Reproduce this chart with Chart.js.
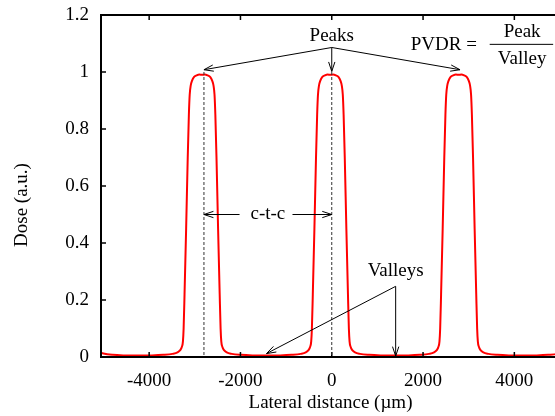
<!DOCTYPE html>
<html>
<head>
<meta charset="utf-8">
<title>Dose profile</title>
<script src="https://cdn.jsdelivr.net/npm/chart.js@4.4.1/dist/chart.umd.min.js"></script>
<style>
  html, body { margin: 0; padding: 0; background: #fff; overflow: hidden; }
  #wrap { width: 555px; height: 416px; overflow: hidden; }
</style>
</head>
<body>
<div id="wrap"><canvas id="dose" width="570" height="416"></canvas></div>
<script>
// lateral position (um) and relative dose of the three-beam profile
const lateralUm = [
  -5110, -5000, -4800, -4550, -4245, -3940, -3690, -3490, -3380, -3320, -3285, -3260,
  -3245, -3225, -3190, -3155, -3130, -3112, -3090, -3060, -3020, -2960, -2900, -2840,
  -2780, -2720, -2660, -2620, -2590, -2568, -2550, -2525, -2490, -2455, -2435, -2420,
  -2395, -2360, -2300, -2190, -1990, -1740, -1435,
  -1130, -880, -680, -570, -510, -475, -450, -435, -415, -380, -345, -320, -302, -280,
  -250, -210, -150, -90, -30, 30, 90, 150, 190, 220, 242, 260, 285, 320, 355, 375, 390,
  415, 450, 510, 620, 820, 1070, 1375,
  1680, 1930, 2130, 2240, 2300, 2335, 2360, 2375, 2395, 2430, 2465, 2490, 2508, 2530,
  2560, 2600, 2660, 2720, 2780, 2840, 2900, 2960, 3000, 3030, 3052, 3070, 3095, 3130,
  3165, 3185, 3200, 3225, 3260, 3320, 3430, 3630, 3880, 4185, 4490, 4740, 4940, 5050
];
const dose = [
  0.018, 0.012, 0.0075, 0.0055, 0.005, 0.0055, 0.0075, 0.011, 0.016, 0.024, 0.035, 0.055,
  0.10, 0.22, 0.45, 0.70, 0.85, 0.92, 0.952, 0.97, 0.982, 0.988, 0.991, 0.99,
  0.991, 0.988, 0.982, 0.97, 0.952, 0.92, 0.85, 0.70, 0.45, 0.22, 0.10, 0.055,
  0.035, 0.024, 0.016, 0.011, 0.0075, 0.0055, 0.005,
  0.0055, 0.0075, 0.011, 0.016, 0.024, 0.035, 0.055, 0.10, 0.22, 0.45, 0.70, 0.85, 0.92, 0.952,
  0.97, 0.982, 0.988, 0.991, 0.99, 0.991, 0.988, 0.982, 0.97, 0.952, 0.92, 0.85, 0.70, 0.45, 0.22, 0.10, 0.055,
  0.035, 0.024, 0.016, 0.011, 0.0075, 0.0055, 0.005,
  0.0055, 0.0075, 0.011, 0.016, 0.024, 0.035, 0.055, 0.10, 0.22, 0.45, 0.70, 0.85, 0.92, 0.952,
  0.97, 0.982, 0.988, 0.991, 0.99, 0.991, 0.988, 0.982, 0.97, 0.952, 0.92, 0.85, 0.70, 0.45,
  0.22, 0.10, 0.055, 0.035, 0.024, 0.016, 0.011, 0.0075, 0.0055, 0.005, 0.0055, 0.0075, 0.011, 0.018
];
const xTicks = [-4000, -2000, 0, 2000, 4000];
const yTicks = [0, 0.2, 0.4, 0.6, 0.8, 1, 1.2];

const FONT = '"Liberation Serif", "Times New Roman", serif';
const FONT_SIZE = 19;

function arrow(ctx, x0, y0, x1, y1) {
  ctx.beginPath();
  ctx.moveTo(x0, y0);
  ctx.lineTo(x1, y1);
  ctx.stroke();
  const a = Math.atan2(y1 - y0, x1 - x0), len = 10, spread = 0.32;
  ctx.beginPath();
  ctx.moveTo(x1 - len * Math.cos(a - spread), y1 - len * Math.sin(a - spread));
  ctx.lineTo(x1, y1);
  ctx.lineTo(x1 - len * Math.cos(a + spread), y1 - len * Math.sin(a + spread));
  ctx.stroke();
}

// border box, inward ticks and the labelled arrows
const overlay = {
  id: 'overlay',
  afterDatasetsDraw(chart) {
    const ctx = chart.ctx;
    const area = chart.chartArea;
    const sx = chart.scales.x, sy = chart.scales.y;
    const X = v => sx.getPixelForValue(v);
    const Y = v => sy.getPixelForValue(v);

    ctx.save();
    ctx.strokeStyle = '#000';
    ctx.lineWidth = 2;
    ctx.strokeRect(area.left, area.top, area.right - area.left, area.bottom - area.top);

    ctx.lineWidth = 1.5;
    ctx.beginPath();
    xTicks.forEach(v => {
      const x = X(v);
      ctx.moveTo(x, area.bottom); ctx.lineTo(x, area.bottom - 5);
      ctx.moveTo(x, area.top); ctx.lineTo(x, area.top + 5);
    });
    yTicks.forEach(v => {
      const y = Y(v);
      ctx.moveTo(area.left, y); ctx.lineTo(area.left + 5, y);
      ctx.moveTo(area.right, y); ctx.lineTo(area.right - 5, y);
    });
    ctx.stroke();

    // centre lines of two neighbouring beams
    ctx.strokeStyle = '#333';
    ctx.lineWidth = 1;
    ctx.setLineDash([3, 2]);
    ctx.beginPath();
    [-2800, 0].forEach(v => {
      ctx.moveTo(X(v), Y(1.0));
      ctx.lineTo(X(v), Y(0));
    });
    ctx.stroke();
    ctx.setLineDash([]);

    ctx.strokeStyle = '#000';
    ctx.lineWidth = 1;
    // Peaks
    arrow(ctx, X(0), Y(1.086), X(-2800), Y(1.008));
    arrow(ctx, X(0), Y(1.086), X(0), Y(1.002));
    arrow(ctx, X(0), Y(1.086), X(2810), Y(1.008));
    // c-t-c
    arrow(ctx, X(-2020), Y(0.5), X(-2800), Y(0.5));
    arrow(ctx, X(-860), Y(0.5), X(0), Y(0.5));
    // Valleys
    arrow(ctx, X(1400), Y(0.248), X(-1430), Y(0.012));
    arrow(ctx, X(1400), Y(0.248), X(1400), Y(0.003));

    ctx.fillStyle = '#000';
    ctx.font = FONT_SIZE + 'px ' + FONT;
    ctx.textBaseline = 'middle';
    ctx.textAlign = 'center';
    ctx.fillText('Peaks', X(0), Y(1.128));
    ctx.fillText('c-t-c', X(-1400), Y(0.5));
    ctx.fillText('Valleys', X(1400), Y(0.30));
    ctx.fillText('Peak', X(4170), Y(1.141));
    ctx.fillText('Valley', X(4170), Y(1.045));
    ctx.textAlign = 'right';
    ctx.fillText('PVDR =', X(3180), Y(1.095));

    ctx.lineWidth = 1;
    ctx.beginPath();
    ctx.moveTo(X(3460), Y(1.097));
    ctx.lineTo(X(4850), Y(1.097));
    ctx.stroke();

    // y axis title
    ctx.translate(22, 205);
    ctx.rotate(-Math.PI / 2);
    ctx.textAlign = 'center';
    ctx.fillText('Dose (a.u.)', 0, 0);
    ctx.restore();
  }
};

const ctx = document.getElementById('dose').getContext('2d');
const chart = new Chart(ctx, {
  type: 'line',
  data: {
    datasets: [{
      data: lateralUm.map((x, i) => ({ x: x, y: dose[i] })),
      borderColor: '#ff0000',
      borderWidth: 2,
      pointRadius: 0,
      cubicInterpolationMode: 'monotone',
      fill: false
    }]
  },
  options: {
    responsive: false,
    animation: false,
    layout: { padding: { top: 15, right: 10, left: 0, bottom: 0 } },
    plugins: { legend: { display: false }, tooltip: { enabled: false } },
    scales: {
      x: {
        type: 'linear',
        min: -5055,
        max: 5000,
        afterBuildTicks: s => { s.ticks = xTicks.map(v => ({ value: v })); },
        afterFit: s => { s.height = 59; s.paddingLeft = 0; s.paddingRight = 0; },
        grid: { display: false, drawTicks: false },
        border: { display: false },
        ticks: {
          padding: 13,
          color: '#000',
          maxRotation: 0,
          font: { family: FONT, size: FONT_SIZE },
          callback: v => String(v)
        },
        title: {
          display: true,
          text: 'Lateral distance (µm)',
          color: '#000',
          padding: { top: 0, bottom: 2 },
          font: { family: FONT, size: FONT_SIZE }
        }
      },
      y: {
        type: 'linear',
        min: 0,
        max: 1.2,
        afterBuildTicks: s => { s.ticks = yTicks.map(v => ({ value: v })); },
        afterFit: s => { s.width = 101; s.paddingTop = 0; s.paddingBottom = 0; },
        grid: { display: false, drawTicks: false },
        border: { display: false },
        ticks: {
          padding: 12,
          color: '#000',
          font: { family: FONT, size: FONT_SIZE },
          callback: v => String(v)
        }
      }
    }
  },
  plugins: [overlay]
});
</script>
</body>
</html>
